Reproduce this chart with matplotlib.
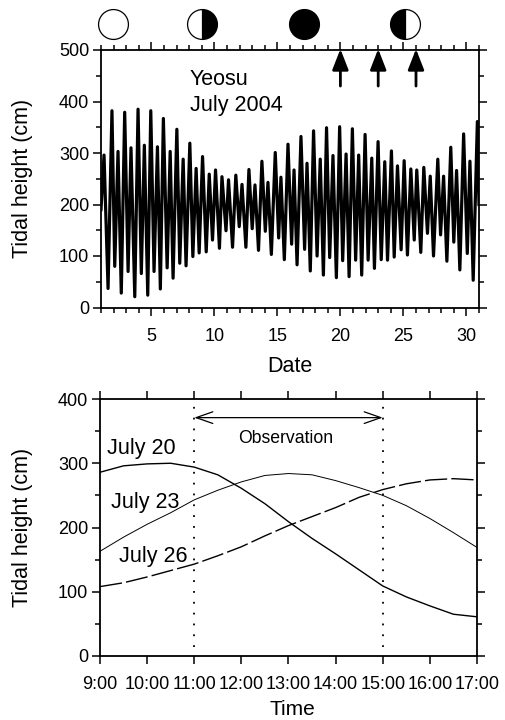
import matplotlib
matplotlib.use('Agg')
import matplotlib.pyplot as plt

plt.rcParams['font.family'] = ['Liberation Sans', 'DejaVu Sans']

# turning points of the tide record (day of month, cm)
tide_days = [1.0, 1.24, 1.56, 1.87, 2.09, 2.35, 2.61, 2.88, 3.15, 3.38, 3.68, 3.94, 4.2, 4.44, 4.71, 4.95,
             5.21, 5.48, 5.71, 5.95, 6.25, 6.49, 6.72, 7.02, 7.25, 7.52, 7.75, 8.05, 8.29, 8.55, 8.79, 9.06,
             9.35, 9.59, 9.85, 10.09, 10.4, 10.6, 10.92, 11.12, 11.44, 11.7, 11.97, 12.19, 12.5, 12.74, 13.0,
             13.22, 13.5, 13.77, 14.04, 14.25, 14.52, 14.83, 15.1, 15.28, 15.55, 15.84, 16.13, 16.32, 16.56,
             16.87, 17.16, 17.35, 17.61, 17.87, 18.15, 18.4, 18.65, 18.9, 19.15, 19.41, 19.68, 19.94, 20.18,
             20.45, 20.69, 20.95, 21.21, 21.45, 21.69, 21.96, 22.2, 22.49, 22.7, 22.99, 23.24, 23.52, 23.74,
             24.05, 24.27, 24.53, 24.82, 25.06, 25.32, 25.59, 25.86, 26.06, 26.38, 26.62, 26.91, 27.13, 27.39,
             27.73, 27.95, 28.19, 28.45, 28.76, 29.0, 29.22, 29.48, 29.78, 30.07, 30.28, 30.54, 30.87, 31.0]
tide_cm = [190, 296, 37, 382, 80, 303, 28, 379, 70, 310, 21, 385, 66, 315, 24, 382,
           70, 312, 36, 367, 77, 303, 57, 346, 86, 288, 81, 319, 99, 270, 106, 293,
           108, 259, 131, 267, 115, 254, 149, 248, 117, 257, 157, 239, 117, 268, 153,
           238, 111, 284, 148, 243, 103, 301, 135, 253, 93, 317, 123, 267, 83,
           332, 113, 280, 71, 343, 100, 288, 63, 349, 97, 295, 58, 351, 91,
           298, 60, 347, 92, 296, 63, 336, 92, 290, 76, 322, 93, 283, 92,
           304, 98, 275, 112, 285, 102, 269, 131, 267, 107, 272, 144, 255, 100,
           288, 141, 255, 90, 311, 127, 266, 73, 337, 105, 284, 53, 361, 200]

moon_days = [1.95, 9.05, 17.1, 25.1]
moon_fill = ['none', 'right', 'full', 'left']
arrow_days = [20, 23, 26]

hours = [9, 9.5, 10, 10.5, 11, 11.5, 12, 12.5, 13, 13.5, 14, 14.5, 15, 15.5, 16, 16.5, 17]
july20 = [286, 296, 299, 300, 294, 282, 261, 237, 209, 183, 159, 134, 109, 92, 78, 65, 61]
july23 = [163, 185, 205, 223, 243, 258, 271, 281, 284, 282, 273, 262, 250, 234, 214, 192, 169]
july26 = [108, 114, 123, 133, 143, 156, 170, 187, 203, 217, 231, 247, 259, 268, 274, 276, 274]
hour_labels = ['9:00', '10:00', '11:00', '12:00', '13:00', '14:00', '15:00', '16:00', '17:00']


def style_axes(ax):
    for s in ax.spines.values():
        s.set_linewidth(1.3)
    ax.tick_params(which='major', direction='out', length=5.5, width=1.1, top=True, right=True,
                   labelsize=13, pad=3)
    ax.tick_params(which='minor', direction='out', length=3.5, width=1.1, top=True, right=True)


fig = plt.figure(figsize=(5.06, 7.2), dpi=100)
W, H = 506.0, 720.0

# top panel
ax1 = fig.add_axes([101 / W, (H - 307.5) / H, 378 / W, 257.5 / H])
ax1.plot(tide_days, tide_cm, color='black', lw=2.3, solid_joinstyle='round')
ax1.set_xlim(1, 31)
ax1.set_ylim(0, 500)
ax1.set_xticks(range(5, 31, 5))
ax1.set_xticks(range(1, 32), minor=True)
ax1.set_yticks(range(0, 501, 100))
ax1.set_yticks(range(50, 500, 100), minor=True)
style_axes(ax1)
ax1.tick_params(axis='x', pad=9)
ax1.set_xlabel('Date', fontsize=15.5)
ax1.xaxis.set_label_coords(0.5, -0.187)
ax1.set_ylabel('Tidal height (cm)', fontsize=15.5)
ax1.yaxis.set_label_coords(-0.18, 0.5)
ax1.text(8.05, 432, 'Yeosu', fontsize=15.5, va='baseline')
ax1.text(8.05, 382, 'July 2004', fontsize=15.5, va='baseline')

for d, fill in zip(moon_days, moon_fill):
    ax1.plot([d], [550], marker='o', ms=21.5, fillstyle=fill if fill != 'none' else 'full',
             markerfacecolor='white' if fill == 'none' else 'black', markerfacecoloralt='white',
             markeredgecolor='black', mew=0.9, clip_on=False, ls='')

for d in arrow_days:
    ax1.annotate('', xy=(d, 502), xytext=(d, 430), annotation_clip=False,
                 arrowprops=dict(arrowstyle='-|>,head_length=0.9,head_width=0.35', color='black',
                                 lw=2.0, shrinkA=0, shrinkB=0, mutation_scale=14))

# bottom panel
ax2 = fig.add_axes([100 / W, (H - 656) / H, 377 / W, 257 / H])
ax2.plot(hours, july20, color='black', lw=1.0)
ax2.plot(hours, july23, color='black', lw=0.7)
ax2.plot(hours, july26, color='black', lw=1.0, dashes=(16, 3))
for h in [11, 15]:
    ax2.plot([h, h], [14, 390], color='black', lw=1.3, ls=(0, (1, 5)))
ax2.annotate('', xy=(11, 371), xytext=(15, 371),
             arrowprops=dict(arrowstyle='<->,head_length=1.0,head_width=0.35', color='black',
                             lw=0.9, shrinkA=0, shrinkB=0, mutation_scale=12))
ax2.set_xlim(9, 17)
ax2.set_ylim(0, 400)
ax2.set_xticks(range(9, 18))
ax2.set_xticklabels(hour_labels)
ax2.set_yticks(range(0, 401, 100))
ax2.set_yticks(range(50, 400, 100), minor=True)
style_axes(ax2)
ax2.tick_params(axis='x', labelsize=13, pad=9)
ax2.set_xlabel('Time', fontsize=15)
ax2.xaxis.set_label_coords(0.51, -0.17)
ax2.set_ylabel('Tidal height (cm)', fontsize=15.5)
ax2.yaxis.set_label_coords(-0.178, 0.5)
ax2.text(9.15, 314, 'July 20', fontsize=15.5, va='baseline')
ax2.text(9.23, 231, 'July 23', fontsize=15.5, va='baseline')
ax2.text(9.4, 147, 'July 26', fontsize=15.5, va='baseline')
ax2.text(12.93, 331, 'Observation', fontsize=12.7, ha='center', va='baseline')

fig.savefig('out.png', dpi=100)
